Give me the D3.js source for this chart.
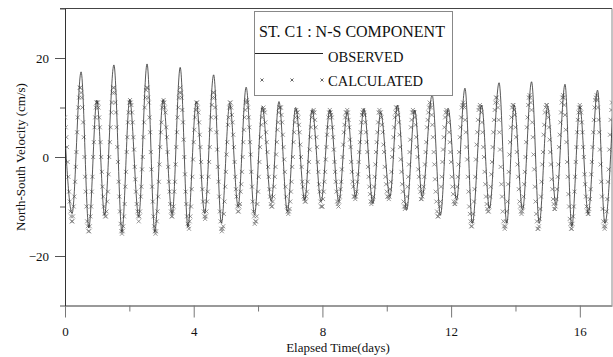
<!DOCTYPE html>
<html>
<head>
<meta charset="utf-8">
<script src="https://cdn.jsdelivr.net/npm/d3@7"></script>
<style>
  body { margin: 0; background: #fff; }
  svg text { font-family: "Liberation Serif", "Times New Roman", serif; fill: #111; }
</style>
</head>
<body>
<svg id="chart" width="613" height="357"></svg>
<script>
// observed current: turning points (days, cm/s)
var obsDays = [-0.04, 0.22, 0.50, 0.74, 0.99, 1.23, 1.52, 1.77, 2.01, 2.29, 2.55, 2.79, 3.05, 3.33,
  3.58, 3.82, 4.08, 4.34, 4.62, 4.86, 5.12, 5.38, 5.63, 5.89, 6.13, 6.41, 6.65, 6.91, 7.17, 7.45,
  7.68, 7.96, 8.23, 8.51, 8.77, 9.03, 9.29, 9.57, 9.81, 10.10, 10.33, 10.62, 10.87, 11.10, 11.41,
  11.67, 11.91, 12.17, 12.43, 12.66, 12.95, 13.19, 13.49, 13.73, 13.96, 14.22, 14.50, 14.74, 15.00,
  15.26, 15.54, 15.75, 16.00, 16.26, 16.55, 16.78, 17.04];
var obsVel = [9, -11.4, 17.2, -14.3, 11.5, -11.7, 18.6, -15.1, 11.6, -12, 18.8, -15.1, 11.6, -11.7,
  18.1, -14.1, 11.2, -11.4, 16.6, -13.4, 10.8, -10, 14.1, -11.7, 10.2, -9, 11.2, -11, 10, -8.7,
  9.6, -9, 9.5, -9, 9.0, -8, 9.8, -9.4, 9.0, -8, 10.5, -10.7, 9.5, -8, 12.5,
  -11.7, 9.8, -8.7, 13.9, -13.4, 10.5, -10.4, 15.0, -13.4, 10.5, -10.7, 15.2, -13.4, 10.2,
  -9.7, 14.7, -14.1, 10.2, -11.4, 13.5, -13.4, 12];

// calculated current, on the hour from day 0 (cm/s)
var calcOnHour = [
  8, 4, -1, -7, -11, -13, -12, -8, -2, 5, 10, 14, 13, 10, 4, -4, -10, -14, -15, -12, -7, 0, 6, 10,
  11, 10, 6, 0, -6, -10, -12, -11, -7, 0, 6, 11, 14, 13, 9, 2, -5, -11, -15, -15, -12, -6, 1, 7, 11,
  11, 9, 4, -2, -7, -11, -13, -11, -6, 0, 7, 12, 14, 12, 8, 1, -6, -12, -15, -15, -11, -5, 2, 7, 11,
  11, 9, 4, -2, -7, -11, -12, -10, -5, 2, 8, 12, 14, 12, 7, 0, -7, -12, -14, -13, -10, -4, 3, 8, 11,
  10, 7, 2, -4, -9, -12, -12, -9, -4, 2, 8, 12, 13, 10, 5, -2, -8, -13, -15, -14, -9, -3, 3, 8, 11,
  10, 7, 2, -4, -8, -11, -10, -7, -3, 3, 8, 11, 11, 8, 3, -3, -9, -12, -13, -12, -7, -1, 4, 8, 10,
  9, 5, 1, -4, -8, -10, -9, -6, -2, 3, 7, 10, 10, 7, 2, -3, -8, -11, -11, -9, -5, 0, 5, 8,
  9, 8, 5, 0, -5, -8, -9, -8, -5, -1, 4, 8, 9, 9, 6, 2, -3, -7, -10, -10, -7, -3, 2, 6, 9,
  9, 8, 4, -1, -5, -9, -10, -8, -5, 0, 5, 8, 9, 9, 6, 2, -3, -6, -8, -8, -5, -1, 3, 7, 9,
  9, 7, 3, -2, -6, -9, -9, -8, -4, 1, 5, 9, 9, 8, 5, 1, -4, -7, -8, -8, -5, 0, 4, 8, 10,
  9.5, 7, 2, -3, -7, -10, -10, -8, -4, 1, 6, 9, 9, 8, 4, 0, -4, -7, -8.5, -7, -4, 1, 6, 9, 11,
  10, 6.5, 1, -4.5, -9, -12, -11.5, -9, -4, 1.5, 6, 9, 9, 7, 3, -1, -6, -9, -9.5, -8, -4, 1, 6, 10, 11,
  10, 5, -0.5, -7, -11.5, -14, -13, -9, -4, 2.5, 7.5, 10, 10, 7, 2, -3, -8, -10.5, -11, -8, -3.5, 2, 7.5, 11,
  12, 10, 5, -2, -8, -13, -14.5, -13, -9, -3, 3, 8, 10.5, 9.5, 6, 1, -4, -9, -11, -11, -8, -3, 3, 8, 12,
  12, 9.5, 4, -2.5, -9, -13, -14.5, -12.5, -8, -1.5, 4.5, 9, 10.5, 9, 6, 1, -4.5, -8.5, -10.5,
  -10, -6.5, -1.5, 4.5, 9, 12, 12, 8.5, 3, -4, -10, -13.5, -14.5, -12, -7, -1, 5, 9,
  10.5, 9, 5, 0, -5.5, -10, -11.5, -10.5, -6.5, -1, 5, 10, 12, 11.5, 7.5, 1.5, -5, -10.5, -14,
  -14, -11, -5, 1.5, 7.5, 11];

// calculated current, on the half hour from day 0 (cm/s)
var calcHalfHour = [
  6, 2, -4, -9, -12, -13, -10, -5, 1, 8, 12, 14, 12, 7, 0, -7, -13, -15, -14, -10, -4, 3, 8, 11,
  11, 8, 3, -3, -8, -11.5, -12, -9, -3.5, 3, 9, 13, 14, 11, 6, -1, -8, -13.5, -15.5,
  -14, -9.5, -3, 4, 9, 11.5, 10.5, 7, 1.5, -4.5, -9.5, -12, -12, -8, -2.5, 4, 10, 13.5,
  14, 11, 5, -2.5, -9, -14, -15.5, -13, -8, -1.5, 5, 10, 11.5, 10, 6, 1, -5, -9.5, -12,
  -11, -7, -1.5, 5, 10, 13, 13, 9.5, 3.5, -3.5, -9.5, -13.5, -14.5, -12, -6.5, -0.5, 5.5, 9.5,
  11, 9, 4.5, -1, -6.5, -11, -12.5, -11, -7, -1, 5.5, 10.5, 13, 12, 8, 1.5, -5, -11, -14.5,
  -14.5, -11.5, -6, 0.5, 6.5, 10, 11, 8.5, 4.5, -1, -6.5, -10, -11, -9.5, -5.5, 0, 5.5, 9.5, 11.5,
  10, 6, 0.5, -6, -11, -13.5, -13, -9.5, -4, 2, 6.5, 9.5, 9.5, 7, 3, -2, -6.5, -9.5,
  -10, -8, -4, 0.5, 5.5, 9, 10, 8.5, 4.5, -0.5, -6, -10, -11.5, -10.5, -7, -2, 3, 7, 9.5,
  9, 6.5, 2.5, -2, -6, -8.5, -9, -7, -3, 1.5, 6, 9, 9.5, 7.5, 4, -1, -5.5, -9,
  -10, -8.5, -5, -0.5, 4.5, 8, 9.5, 8.5, 6, 1.5, -3, -7, -9.5, -9, -6.5, -2.5, 2.5, 6.5, 9,
  9.5, 7.5, 3.5, -1, -5, -8, -8.5, -7, -3.5, 1, 5, 8.5, 9.5, 8.5, 5, 1, -4, -7.5, -9.5,
  -8.5, -6, -1.5, 3, 7, 9.5, 9, 6.5, 2.5, -2, -5.5, -8, -8.5, -6.5, -3, 1.5, 6, 9,
  10, 8.5, 4.5, -0.5, -5.5, -9, -10.5, -9.5, -6, -1.5, 3.5, 7.5, 9.5, 9, 6.5, 2, -2.5, -6, -8.5,
  -8, -6, -1.5, 3, 7.5, 10, 10.5, 8.5, 4, -1.5, -7, -11, -12, -10, -6, -1, 4, 8, 9.5,
  8.5, 5, 1, -4, -7.5, -9.5, -9, -6, -1.5, 4, 8, 10.5, 10.5, 7.5, 2, -4, -10, -13,
  -14, -11.5, -6.5, -0.5, 5, 9.5, 10.5, 9, 5, 0, -5.5, -9.5, -11, -10, -6, -1, 5, 9.5, 12,
  11, 7.5, 1.5, -5.5, -11, -14, -14, -11, -5.5, 0.5, 6, 10, 10.5, 8.5, 4, -1.5, -6.5, -10,
  -11.5, -10, -5.5, 0, 6, 10.5, 12.5, 11, 7, 0.5, -6, -11.5, -14.5, -14, -10.5, -5, 1, 6.5, 10,
  10.5, 8, 3.5, -1.5, -6.5, -9.5, -10.5, -8.5, -4, 2, 7, 11, 12.5, 10.5, 5.5, -1, -7.5, -12.5, -14.5,
  -13.5, -10, -4, 2, 7.5, 10, 10, 7, 2, -3.5, -8, -11, -11.5, -8.5, -3.5, 2, 7.5, 11.5,
  12.5, 10, 5, -1.5, -8, -13, -14.5, -13, -8.5, -2.5, 4.5, 9.5];

var xTicks = [0, 4, 8, 12, 16], xMinorTicks = [2, 6, 10, 14];
var yTicks = [-20, 0, 20], yMinorTicks = [-30, -10, 10, 30];

var svg = d3.select("#chart"),
  margin = { top: 8.5, right: 1, bottom: 51.5, left: 65 },
  width = +svg.attr("width"),
  height = +svg.attr("height");

var x = d3.scaleLinear().domain([0, 17]).range([margin.left, width - margin.right]);
var y = d3.scaleLinear().domain([-30, 30]).range([height - margin.bottom, margin.top]);

svg.append("clipPath").attr("id", "plot")
  .append("rect")
  .attr("x", x(0)).attr("y", y(30))
  .attr("width", x(17) - x(0)).attr("height", y(-30) - y(30));

// frame
svg.append("line")
  .attr("x1", x(0) - 5).attr("x2", x(17))
  .attr("y1", y(30)).attr("y2", y(30))
  .style("stroke", "#444");
svg.append("line")
  .attr("x1", x(17)).attr("x2", x(17))
  .attr("y1", y(30)).attr("y2", y(-30))
  .style("stroke", "#888");

// x axis
var xAxis = svg.append("g")
  .attr("transform", "translate(0," + y(-30) + ")")
  .call(d3.axisBottom(x).tickValues(xTicks).tickSize(12).tickSizeOuter(0).tickFormat(d3.format("d")));
xAxis.select(".domain").style("stroke", "#999").style("stroke-width", 2);
xAxis.selectAll(".tick line").style("stroke", "#777");
xAxis.selectAll("text").attr("y", 21).style("font-size", "13px").style("font-family", null);

var xMinor = svg.append("g")
  .attr("transform", "translate(0," + y(-30) + ")")
  .call(d3.axisBottom(x).tickValues(xMinorTicks).tickSize(6).tickFormat(""));
xMinor.select(".domain").remove();
xMinor.selectAll(".tick line").style("stroke", "#777");

// y axis
var yAxis = svg.append("g")
  .attr("transform", "translate(" + x(0) + ",0)")
  .call(d3.axisLeft(y).tickValues(yTicks).tickSize(10).tickSizeOuter(0).tickPadding(6));
yAxis.select(".domain").style("stroke", "#333");
yAxis.selectAll(".tick line").style("stroke", "#555");
yAxis.selectAll("text").style("font-size", "13px").style("font-family", null);

var yMinor = svg.append("g")
  .attr("transform", "translate(" + x(0) + ",0)")
  .call(d3.axisLeft(y).tickValues(yMinorTicks).tickSize(5).tickFormat(""));
yMinor.select(".domain").remove();
yMinor.selectAll(".tick line").style("stroke", "#555");

svg.append("text")
  .attr("x", 338).attr("y", 352)
  .attr("text-anchor", "middle")
  .style("font-size", "13px")
  .text("Elapsed Time(days)");

svg.append("text")
  .attr("transform", "translate(25," + y(0) + ") rotate(-90)")
  .attr("text-anchor", "middle")
  .style("font-size", "13px")
  .text("North-South Velocity (cm/s)");

// series
var plot = svg.append("g").attr("clip-path", "url(#plot)");

var cross = "M-2,-2L2,2M-2,2L2,-2";

function drawCrosses(values, offsetHours) {
  plot.append("g")
    .selectAll("path")
    .data(values)
    .enter().append("path")
    .attr("transform", (d, i) => "translate(" + x((i + offsetHours) / 24) + "," + y(d) + ")")
    .attr("d", cross)
    .style("fill", "none")
    .style("stroke", "#7a7a7a")
    .style("stroke-width", 0.8);
}
drawCrosses(calcOnHour, 0);
drawCrosses(calcHalfHour, 0.5);

var line = d3.line()
  .curve(d3.curveMonotoneX)
  .x((d, i) => x(obsDays[i]))
  .y((d) => y(d));

plot.append("path")
  .datum(obsVel)
  .attr("d", line)
  .style("fill", "none")
  .style("stroke", "#222")
  .style("stroke-width", 0.75);

// legend
var legend = svg.append("g");
legend.append("rect")
  .attr("x", 254.5).attr("y", 11.5)
  .attr("width", 198).attr("height", 84)
  .style("fill", "#fff")
  .style("stroke", "#888");
legend.append("text")
  .attr("x", 259).attr("y", 37)
  .style("font-size", "16px")
  .text("ST. C1 : N-S COMPONENT");
legend.append("line")
  .attr("x1", 255).attr("x2", 323)
  .attr("y1", 53.5).attr("y2", 53.5)
  .style("stroke", "#222");
legend.append("text")
  .attr("x", 328).attr("y", 62)
  .style("font-size", "14.5px")
  .text("OBSERVED");
legend.selectAll(".lx")
  .data([262, 292, 322])
  .enter().append("path")
  .attr("transform", (d) => "translate(" + d + ",80)")
  .attr("d", "M-1.5,-1.5L1.5,1.5M-1.5,1.5L1.5,-1.5")
  .style("stroke", "#666");
legend.append("text")
  .attr("x", 328).attr("y", 86)
  .style("font-size", "14.5px")
  .text("CALCULATED");
</script>
</body>
</html>
